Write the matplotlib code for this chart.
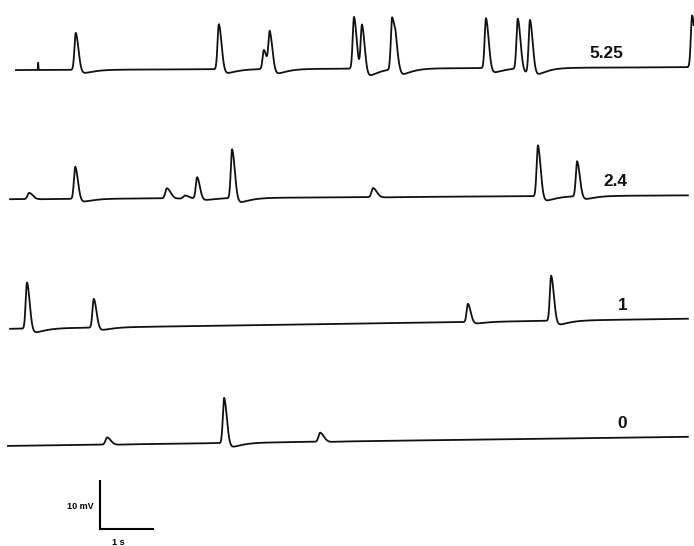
# -*- coding: utf-8 -*-
import numpy as np
import matplotlib
matplotlib.use('Agg')
import matplotlib.pyplot as plt

plt.rcParams['font.family'] = ['Liberation Sans', 'DejaVu Sans']

# %% data ----------------------------------------------------------------------
# spike peak times [s] and amplitudes [mV]
labels = ['5.25', '2.4', '1', '0']

t_spk_0 = [1.43, 4.13, 4.98, 5.09, 6.68, 6.83, 7.40, 7.47, 9.17, 9.77, 10.00, 13.06]
a_spk_0 = [7.7, 9.4, 4.0, 7.9, 10.8, 10.0, 10.8, 3.8, 10.4, 10.4, 10.8, 10.8]

t_spk_1 = [0.55, 1.42, 3.15, 3.49, 3.72, 4.38, 7.04, 10.15, 10.89]
a_spk_1 = [1.3, 6.7, 2.1, 0.6, 4.4, 10.2, 1.9, 10.6, 7.3]

t_spk_2 = [0.51, 1.77, 8.83, 10.40]
a_spk_2 = [9.6, 6.0, 3.8, 9.4]

t_spk_3 = [2.02, 4.23, 6.04]
a_spk_3 = [1.5, 9.4, 1.9]

# stimulus artefact on the top sweep
t_art_0 = [0.72]
a_art_0 = [1.5]

# sweep start/end [s], resting level at start [mV], drift over sweep [mV]
t_start = [0.30, 0.19, 0.19, 0.15]
t_end = [13.09, 12.98, 12.98, 12.98]
v_rest = [-14.6, -41.5, -68.5, -92.9]
v_drift = [0.6, 0.8, 2.1, 1.9]

# %% ---------------------------------------------------------------------------
def fcnSweep(t0, t1, v0, dv, t_spk, a_spk, t_art=(), a_art=()):
    t = np.arange(t0, t1, 0.003)
    v = v0 + dv * (t - t0) / (t1 - t0)
    for ts, a in zip(t_spk, a_spk):
        s = t - ts
        if a > 3.0:
            sr, sd, tau, u = 0.025, 0.052, 0.13, 0.09
        else:
            sr, sd, tau, u = 0.03, 0.07, 0.12, 0.04
        shp = np.where(s < 0, np.exp(-0.5 * (s / sr)**2), np.exp(-0.5 * (s / sd)**2))
        sp = np.clip(s, 0, None)
        v = v + a * shp - u * a * (sp / tau) * np.exp(1 - sp / tau)
    for ts, a in zip(t_art, a_art):
        v = v + a * np.exp(-0.5 * ((t - ts) / 0.004)**2)
    return t, v


fig = plt.figure(figsize=(6.94, 5.46), dpi=100)
ax0 = fig.add_axes([0, 0, 1, 1])
ax0.set_xlim(0, 694 / 53.0)
ax0.set_ylim(-546 / 4.8, 0)
ax0.axis('off')

spk = [(t_spk_0, a_spk_0), (t_spk_1, a_spk_1), (t_spk_2, a_spk_2), (t_spk_3, a_spk_3)]
lbl_x = [11.45, 11.62, 11.74, 11.74]

for i in range(4):
    if i == 0:
        t, v = fcnSweep(t_start[i], t_end[i], v_rest[i], v_drift[i],
                        spk[i][0], spk[i][1], t_art_0, a_art_0)
    else:
        t, v = fcnSweep(t_start[i], t_end[i], v_rest[i], v_drift[i], spk[i][0], spk[i][1])
    ax0.plot(t, v, '-', color='#111111', lw=1.3, solid_joinstyle='round')
    ax0.text(lbl_x[i], v_rest[i] + v_drift[i] + 2.8, labels[i],
             ha='center', va='center', fontsize=12.4, fontweight='bold', color='#111111')

#------------------ scale bar: 1 s, 10 mV
sb_x, sb_y = 1.887, -110.2
ax0.plot([sb_x, sb_x, sb_x + 1.0], [sb_y + 10.0, sb_y, sb_y], '-k', lw=1.5,
         solid_joinstyle='miter')
ax0.text(sb_x - 0.12, sb_y + 4.6, '10 mV', ha='right', va='center',
         fontsize=6.5, fontweight='bold')
ax0.text(sb_x + 0.34, -113.1, '1 s', ha='center', va='center',
         fontsize=6.5, fontweight='bold')

plt.savefig('out.png', dpi=100)
